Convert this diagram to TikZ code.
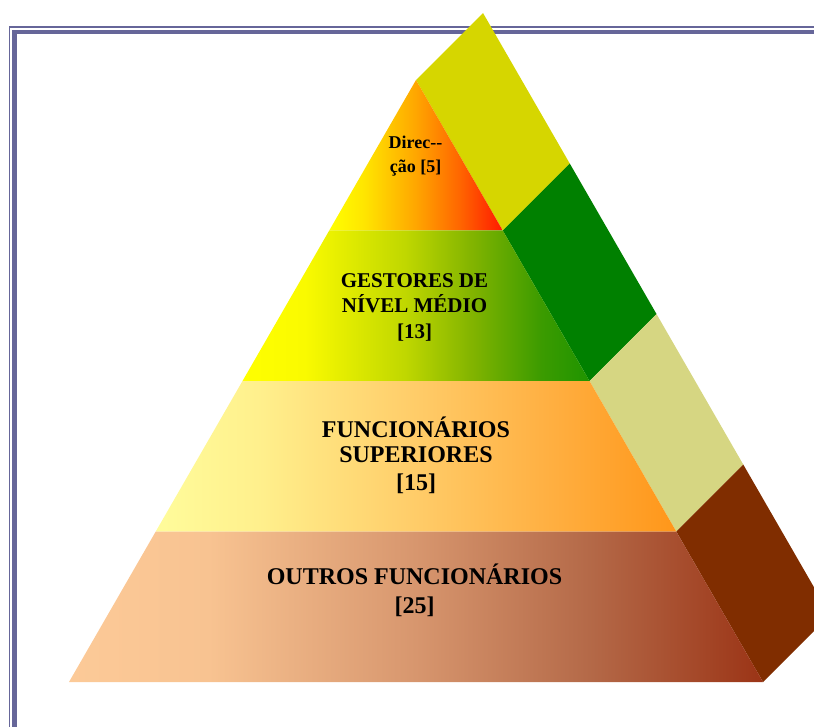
\documentclass[tikz,border=0pt]{standalone}
\usepackage{fontspec}
\setmainfont{Liberation Serif}
\usetikzlibrary{calc}

\definecolor{framecol}{RGB}{102,102,153}
\definecolor{sideA}{RGB}{214,214,0}
\definecolor{sideB}{RGB}{0,128,0}
\definecolor{sideC}{RGB}{214,214,130}
\definecolor{sideD}{RGB}{128,45,0}

% horizontal fills of the four front levels; the path box spans 25bp..75bp
\pgfdeclarehorizontalshading{levelA}{100bp}{%
  rgb(0bp)=(1,1,0); rgb(25bp)=(1,1,0); rgb(35bp)=(1,0.90,0);
  rgb(50bp)=(1,0.65,0); rgb(62.5bp)=(1,0.40,0); rgb(75bp)=(1,0.10,0);
  rgb(100bp)=(1,0.10,0)}
\pgfdeclarehorizontalshading{levelB}{100bp}{%
  rgb(0bp)=(1,1,0); rgb(25bp)=(1,1,0); rgb(34bp)=(0.98,0.98,0);
  rgb(48.5bp)=(0.75,0.843,0); rgb(58bp)=(0.51,0.706,0);
  rgb(68bp)=(0.235,0.608,0); rgb(75bp)=(0.12,0.58,0);
  rgb(100bp)=(0.12,0.58,0)}
\pgfdeclarehorizontalshading{levelC}{100bp}{%
  rgb(0bp)=(1,0.988,0.608); rgb(25bp)=(1,0.988,0.608);
  rgb(35bp)=(1,0.94,0.55); rgb(50bp)=(1,0.80,0.41);
  rgb(62.5bp)=(1,0.69,0.26); rgb(75bp)=(1,0.59,0.10);
  rgb(100bp)=(1,0.59,0.10)}
\pgfdeclarehorizontalshading{levelD}{100bp}{%
  rgb(0bp)=(0.988,0.792,0.596); rgb(25bp)=(0.988,0.792,0.596);
  rgb(35bp)=(0.973,0.765,0.569); rgb(50bp)=(0.843,0.588,0.431);
  rgb(62.5bp)=(0.706,0.412,0.282); rgb(75bp)=(0.608,0.204,0.086);
  rgb(100bp)=(0.608,0.204,0.086)}

\begin{document}
\begin{tikzpicture}[x=1pt,y=-1pt,
  lbl/.style={anchor=base, inner sep=0pt, text=black},
  sz18/.style={font=\bfseries\fontsize{18}{22}\selectfont},
  sz21/.style={font=\bfseries\fontsize{21}{25}\selectfont},
  sz24/.style={font=\bfseries\fontsize{24}{28}\selectfont}]
\useasboundingbox (0,0) rectangle (814,727);
\clip (0,0) rectangle (814,727);

% page frame: thin outer rule and thick inner rule
\draw[framecol, line width=1.2pt] (9.5,727) -- (9.5,27) -- (814,27);
\draw[framecol, line width=4.3pt] (14.5,727) -- (14.5,32.2) -- (814,32.2);

% pyramid corners and level points
\coordinate (A) at (416,80);
\coordinate (L4) at (69,682);
\coordinate (R4) at (763,682);
\coordinate (R0) at (A);
\foreach \k in {1,2,3}{
  \coordinate (L\k) at ($(A)!\k/4!(L4)$);
  \coordinate (R\k) at ($(A)!\k/4!(R4)$);
}
\foreach \k in {0,...,4}{
  \coordinate (S\k) at ($(R\k)+(67,-67)$);
}

% side faces
\fill[sideA] (R0) -- (R1) -- (S1) -- (S0) -- cycle;
\fill[sideB] (R1) -- (R2) -- (S2) -- (S1) -- cycle;
\fill[sideC] (R2) -- (R3) -- (S3) -- (S2) -- cycle;
\fill[sideD] (R3) -- (R4) -- (S4) -- (S3) -- cycle;

% front levels
\shade[shading=levelA] (A) -- (R1) -- (L1) -- cycle;
\shade[shading=levelB] (L1) -- (R1) -- (R2) -- (L2) -- cycle;
\shade[shading=levelC] (L2) -- (R2) -- (R3) -- (L3) -- cycle;
\shade[shading=levelD] (L3) -- (R3) -- (R4) -- (L4) -- cycle;

% labels
\node[lbl, sz18] (t1a) at (415.5,149) {Direc-{}-};
\node[lbl, sz18] (t1b) at (415.5,173) {ção [5]};

\node[lbl, sz21] (t2a) at (414.5,288) {GESTORES DE};
\node[lbl, sz21] (t2b) at (414.5,313) {NÍVEL MÉDIO};
\node[lbl, sz21] (t2c) at (414.5,338) {[13]};

\node[lbl, sz24] (t3a) at (416,437) {FUNCIONÁRIOS};
\node[lbl, sz24] (t3b) at (416,462) {SUPERIORES};
\node[lbl, sz24] (t3c) at (416,490) {[15]};

\node[lbl, sz24] (t4a) at (414.5,584) {OUTROS FUNCIONÁRIOS};
\node[lbl, sz24] (t4b) at (414.5,613) {[25]};
\end{tikzpicture}
\end{document}
